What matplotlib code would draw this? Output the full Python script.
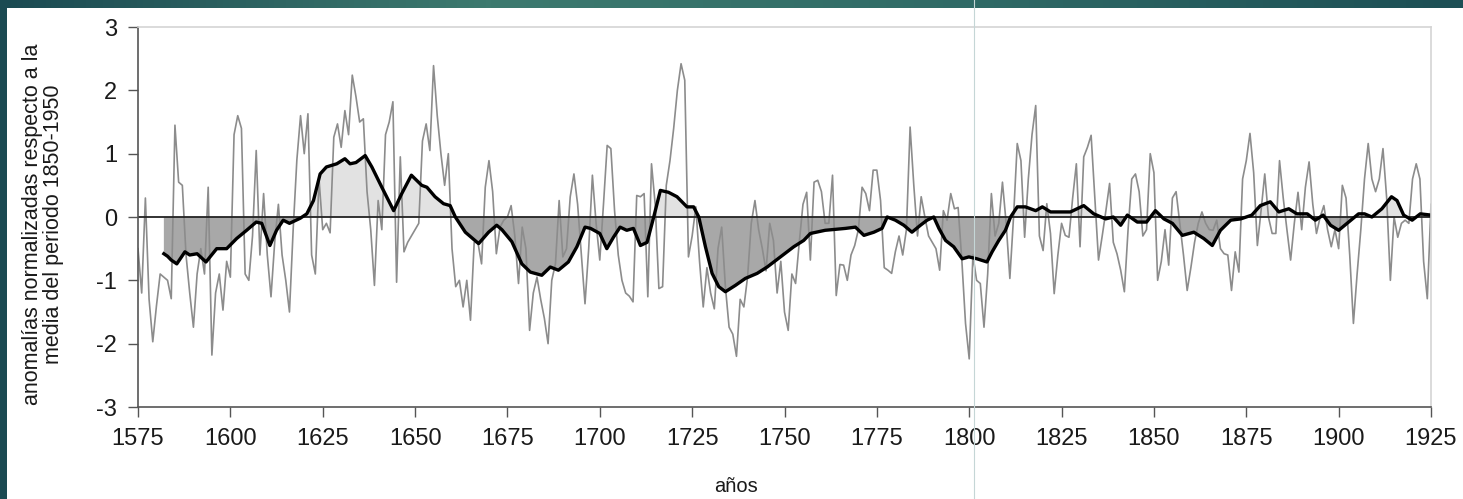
import numpy as np
import matplotlib.pyplot as plt
from matplotlib.lines import Line2D
from matplotlib.colors import LinearSegmentedColormap

plt.rcParams['font.family'] = ['Liberation Sans', 'DejaVu Sans']
plt.rcParams['axes.unicode_minus'] = False

# serie anual (anomalias normalizadas), 1575-1925
years = np.arange(1575, 1926)
annual = [
    -0.5, -1.2, 0.3, -1.3, -1.97,
    -1.4, -0.9, -0.95, -1.0, -1.29, 1.45, 0.55, 0.5, -0.6, -1.2,
    -1.74, -0.9, -0.5, -0.9, 0.47, -2.18, -1.2, -0.9, -1.47, -0.7,
    -0.95, 1.3, 1.6, 1.4, -0.9, -1.0, -0.3, 1.05, -0.6, 0.37,
    -0.6, -1.26, -0.4, 0.2, -0.6, -1.0, -1.5, -0.2, 0.9, 1.6,
    1.0, 1.63, -0.6, -0.9, 0.6, -0.2, -0.1, -0.25, 1.26, 1.47,
    1.1, 1.68, 1.3, 2.24, 1.9, 1.5, 1.55, 0.4, -0.2, -1.08,
    0.26, -0.2, 1.3, 1.5, 1.82, -1.03, 0.95, -0.55, -0.4, -0.3,
    -0.2, -0.1, 1.2, 1.47, 1.05, 2.39, 1.6, 1.0, 0.5, 1.0,
    -0.5, -1.1, -1.0, -1.42, -1.0, -1.63, -0.4, -0.4, -0.74, 0.47,
    0.89, 0.4, -0.58, -0.16, -0.05, 0.0, 0.18, -0.3, -1.05, -0.16,
    -0.5, -1.79, -1.2, -0.95, -1.3, -1.6, -2.0, -1.0, -0.74, 0.26,
    -0.63, -0.5, 0.32, 0.68, 0.2, -0.58, -1.37, -0.5, 0.66, -0.1,
    -0.68, 0.2, 1.13, 1.08, 0.1, -0.6, -1.0, -1.2, -1.25, -1.34,
    0.34, 0.32, 0.37, -1.26, 0.84, 0.2, -1.13, -1.1, 0.5, 0.89,
    1.4, 2.0, 2.42, 2.16, -0.63, -0.3, 0.16, -0.7, -1.42, -0.8,
    -1.2, -1.45, -0.5, -0.16, -1.1, -1.74, -1.85, -2.2, -1.3, -1.42,
    -0.95, -0.1, 0.26, -0.2, -0.5, -0.85, -0.1, -0.37, -1.2, -0.7,
    -1.5, -1.79, -0.9, -1.05, -0.4, 0.2, 0.39, -0.68, 0.55, 0.58,
    0.4, -0.1, -0.1, 0.66, -1.24, -0.75, -0.76, -1.0, -0.6, -0.45,
    -0.2, 0.47, 0.37, 0.1, 0.74, 0.74, 0.26, -0.8, -0.84, -0.89,
    -0.55, -0.3, -0.6, -0.2, 1.42, 0.5, -0.3, 0.32, 0.0, -0.3,
    -0.4, -0.5, -0.84, 0.1, -0.05, 0.37, 0.13, 0.15, -0.68, -1.68,
    -2.24, -0.6, -1.0, -1.05, -1.74, -0.9, 0.37, -0.3, -0.1, 0.55,
    -0.1, -0.97, 0.0, 1.16, 0.89, -0.32, 0.6, 1.3, 1.76, -0.3,
    -0.53, 0.21, -0.26, -1.21, -0.6, -0.1, -0.29, -0.32, 0.3, 0.84,
    -0.47, 0.95, 1.1, 1.29, 0.3, -0.68, -0.3, 0.1, 0.53, -0.4,
    -0.58, -0.84, -1.18, -0.2, 0.6, 0.68, 0.4, -0.3, -0.2, 1.0,
    0.7, -1.0, -0.7, -0.2, -0.76, 0.3, 0.4, -0.1, -0.6, -1.16,
    -0.8, -0.4, -0.1, 0.08, -0.1, -0.2, -0.21, -0.05, -0.5, -0.58,
    -0.6, -1.16, -0.55, -0.87, 0.6, 0.89, 1.32, 0.7, -0.45, 0.1,
    0.68, 0.0, -0.26, -0.26, 0.89, 0.3, -0.2, -0.68, -0.1, 0.39,
    -0.2, 0.47, 0.87, 0.2, -0.26, 0.0, 0.18, -0.2, -0.47, -0.2,
    -0.5, 0.5, 0.3, -0.6, -1.68, -0.9, -0.2, 0.6, 1.16, 0.6,
    0.4, 0.6, 1.08, 0.3, -1.0, 0.0, -0.32, -0.1, -0.05, -0.1,
    0.6, 0.84, 0.6, -0.7, -1.29, 0.2,
]

# curva suavizada
smooth_years = [
    1582, 1583, 1584, 1585.5, 1587.7, 1589, 1591, 1593.4, 1596.3, 1599,
    1601.7, 1604.4, 1607, 1608.5, 1610.7, 1612.5, 1614.3, 1616, 1618.9, 1620.7,
    1622.5, 1624.3, 1626, 1628.8, 1631, 1632.4, 1634, 1636.5, 1638.3, 1641,
    1644.2, 1646.4, 1649, 1651.8, 1653.2, 1655.4, 1657.7, 1659.5, 1660.9, 1663.6,
    1667.2, 1669.9, 1672.1, 1673.5, 1676.2, 1678.9, 1681.2, 1684.3, 1686.6, 1688.8,
    1691.5, 1693.8, 1696, 1697.5, 1700, 1701.9, 1703.7, 1705.5, 1707.3, 1709.1,
    1711, 1712.8, 1714.6, 1716.4, 1718.6, 1720.9, 1723.6, 1725.4, 1726.8, 1728.6,
    1730.4, 1732.2, 1734, 1736.7, 1739.4, 1742.6, 1745.3, 1748.9, 1752.5, 1755.2,
    1757, 1761, 1766.5, 1769.2, 1771.5, 1774.2, 1776.4, 1777.8, 1780, 1782.3,
    1784.5, 1786.8, 1788.6, 1790.4, 1791.8, 1793.6, 1795.8, 1798.1, 1799.9, 1802.1,
    1804.8, 1806.2, 1808, 1809.8, 1811.2, 1813, 1815.2, 1818, 1819.8, 1822,
    1827.4, 1831, 1833.7, 1836.9, 1839, 1841, 1842.8, 1845.5, 1848, 1850.4,
    1852.7, 1855, 1857.7, 1860.8, 1863.5, 1865.8, 1868, 1870.8, 1873.5, 1876.5,
    1878.8, 1881.5, 1883.8, 1886.5, 1888.7, 1891.5, 1893.7, 1895.8, 1897.8, 1900,
    1902.7, 1905.4, 1907, 1909, 1911.7, 1914.3, 1915.8, 1917.6, 1919.9, 1922.1,
    1925,
]
smooth = [
    -0.58, -0.62, -0.68, -0.74, -0.55, -0.6, -0.58, -0.71, -0.5, -0.5,
    -0.34, -0.21, -0.08, -0.1, -0.45, -0.21, -0.05, -0.1, -0.02, 0.05,
    0.26, 0.68, 0.79, 0.84, 0.92, 0.84, 0.86, 0.97, 0.79, 0.47,
    0.1, 0.37, 0.66, 0.5, 0.47, 0.32, 0.21, 0.18, 0.0, -0.24,
    -0.42, -0.24, -0.13, -0.2, -0.39, -0.74, -0.87, -0.92, -0.79, -0.84,
    -0.71, -0.47, -0.16, -0.18, -0.26, -0.5, -0.32, -0.16, -0.21, -0.18,
    -0.45, -0.4, 0.0, 0.42, 0.39, 0.32, 0.16, 0.16, 0.0, -0.47,
    -0.89, -1.1, -1.18, -1.08, -0.97, -0.89, -0.79, -0.63, -0.47, -0.37,
    -0.26, -0.21, -0.18, -0.16, -0.29, -0.24, -0.18, 0.0, -0.05, -0.13,
    -0.24, -0.13, -0.05, 0.0, -0.18, -0.37, -0.47, -0.66, -0.63, -0.66,
    -0.71, -0.55, -0.37, -0.21, 0.0, 0.16, 0.16, 0.1, 0.16, 0.08,
    0.08, 0.18, 0.05, -0.03, 0.0, -0.13, 0.03, -0.08, -0.08, 0.1,
    -0.03, -0.1, -0.29, -0.24, -0.34, -0.45, -0.21, -0.05, -0.03, 0.03,
    0.18, 0.24, 0.08, 0.13, 0.05, 0.05, -0.05, 0.03, -0.13, -0.21,
    -0.08, 0.05, 0.05, 0.0, 0.13, 0.32, 0.26, 0.03, -0.05, 0.05,
    0.03,
]

xticks = list(range(1575, 1926, 25))
yticks = [-3, -2, -1, 0, 1, 2, 3]

fig = plt.figure(figsize=(14.63, 4.99), dpi=100)

# marco de la diapositiva
top = fig.add_axes([0, 1 - 8 / 499, 1, 8 / 499])
grad = np.linspace(0, 1, 256).reshape(1, -1)
top.imshow(grad, aspect='auto', cmap=LinearSegmentedColormap.from_list(
    'teal', ['#1b4a52', '#3d7a6f', '#2f6a66', '#1d4f55']))
top.axis('off')
left = fig.add_axes([0, 0, 7 / 1463, 1])
left.set_facecolor('#1b4a52')
left.set_xticks([])
left.set_yticks([])
for s in left.spines.values():
    s.set_visible(False)

ax = fig.add_axes([138 / 1463, 1 - 407 / 499, (1431 - 138) / 1463, 380 / 499])

sx = np.array(smooth_years)
sy = np.array(smooth)
ax.fill_between(sx, sy, 0, where=sy >= 0, interpolate=True, color='#e2e2e2', lw=0)
ax.fill_between(sx, sy, 0, where=sy <= 0, interpolate=True, color='#a8a8a8', lw=0)
ax.plot(years, annual, color='#8c8c8c', lw=1.2)
ax.axhline(0, color='#222222', lw=1.3)
ax.plot(sx, sy, color='black', lw=2.4)

ax.set_xlim(1575, 1925)
ax.set_ylim(-3, 3)
ax.set_xticks(xticks)
ax.set_yticks(yticks)
ax.tick_params(direction='out', length=7, width=1, color='#555555',
               labelsize=17, labelcolor='#1a1a1a', pad=8)
ax.spines['left'].set_color('#555555')
ax.spines['bottom'].set_color('#555555')
ax.spines['top'].set_color('#d4d4d4')
ax.spines['right'].set_color('#d4d4d4')
for s in ax.spines.values():
    s.set_linewidth(1.2)

ax.set_ylabel('anomalías normalizadas respecto a la\nmedia del periodo 1850-1950',
              fontsize=15.5, linespacing=1.0, color='#1a1a1a')
ax.yaxis.set_label_coords(-0.057, 0.48)
fig.text(736 / 1463, 1 - 487 / 499, 'años', ha='center', va='center',
         fontsize=14.5, color='#1a1a1a')

# linea fina vertical de la captura
fig.add_artist(Line2D([974 / 1463, 974 / 1463], [0, 1], color='#c5d6d6', lw=0.8))

fig.savefig('out.png', dpi=100)
